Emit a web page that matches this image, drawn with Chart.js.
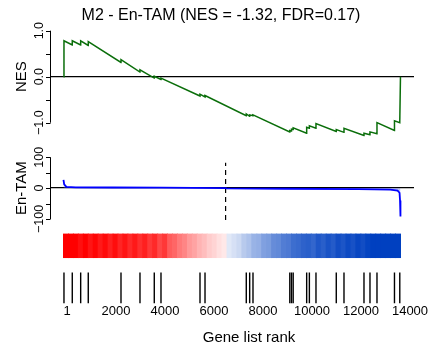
<!DOCTYPE html>
<html>
<head>
<meta charset="utf-8">
<title>M2 - En-TAM</title>
<script src="https://cdn.jsdelivr.net/npm/chart.js"></script>
<style>
  body { margin: 0; background: #fff; }
  canvas { display: block; }
</style>
</head>
<body>
<canvas id="gsea" width="428" height="348"></canvas>
<script>
const geneCount = 13720;

// running enrichment score (rank, score)
const esRanks = [1, 21, 358, 359, 700, 701, 1009, 1010, 2341, 2342, 3114, 3115, 3696, 3697, 3969, 3970,
  5557, 5558, 5761, 5762, 7441, 7442, 7579, 7580, 7714, 7715, 9212, 9213, 9281, 9282, 9350, 9351,
  9899, 9900, 10009, 10010, 10278, 10279, 11104, 11105, 11418, 11419, 12232, 12233, 12476, 12477,
  12761, 12762, 13473, 13474, 13689, 13718];
const esScores = [0, 0.78, 0.69, 0.78, 0.69, 0.78, 0.68, 0.76, 0.31, 0.37, 0.10, 0.15, -0.03, 0.01, -0.06, -0.03,
  -0.42, -0.38, -0.44, -0.41, -0.85, -0.81, -0.86, -0.83, -0.85, -0.83, -1.20, -1.17, -1.18, -1.14, -1.15, -1.11,
  -1.23, -1.10, -1.12, -1.07, -1.12, -1.02, -1.19, -1.15, -1.21, -1.12, -1.28, -1.23, -1.26, -1.20,
  -1.24, -1.00, -1.17, -0.96, -1.00, 0];

// ranks of the genes in the set (black bars)
const hitRanks = [21, 359, 701, 1010, 2342, 3115, 3697, 3970, 5558, 5762, 7442, 7580, 7715,
  9213, 9282, 9351, 9900, 10010, 10279, 11105, 11419, 12233, 12477, 12762, 13474, 13690];

// ranked list metric (En-TAM)
const metricRanks = [1, 30, 120, 500, 2000, 4000, 6600, 6650, 9000, 12000, 13300, 13600, 13680, 13700, 13718];
const metricValues = [27, 12, 4, 2.5, 2, 1.5, 0, -1, -2, -3, -5, -8, -15, -40, -92];

// where the metric crosses zero (dashed line)
const crossRank = 6600;
const crossSpan = [-103, 82];

// colour bar, +1 red ... 0 white ... -1 blue
const heatLevels = [1.00, 1.00, 1.00, 0.94, 1.00, 0.92, 0.98, 0.90, 0.96, 0.88,
  0.95, 0.86, 0.92, 0.84, 0.90, 0.82, 0.88, 0.78, 0.84, 0.72,
  0.78, 0.64, 0.60, 0.52, 0.48, 0.40, 0.36, 0.30, 0.26, 0.20,
  0.17, 0.12, 0.09,
  -0.12, -0.16, -0.20, -0.28, -0.32, -0.40, -0.42, -0.50, -0.52, -0.60,
  -0.62, -0.68, -0.70, -0.76, -0.78, -0.82, -0.84, -0.80, -0.88, -0.84,
  -0.90, -0.86, -0.93, -0.89, -0.95, -0.91, -0.97, -0.93, -0.98, -1,
  -1, -1, -1, -1, -1];

const rankTicks = [1, 2000, 4000, 6000, 8000, 10000, 12000, 14000];
const nesTicks = [-1, -0.5, 0, 0.5, 1];
const nesLabels = {'-1': '\u22121.0', '0': '0.0', '1': '1.0'};
const tamTicks = [-100, -50, 0, 50, 100];
const tamLabels = {'-100': '\u2212100', '0': '0', '100': '100'};

const FONT = '"Liberation Sans", Arial, Helvetica, sans-serif';
Chart.defaults.font.family = FONT;
Chart.defaults.color = '#000';

function heatColor(h) {
  if (h >= 0) {
    const c = Math.round(255 * (1 - h));
    return `rgb(255,${c},${c})`;
  }
  const t = -h;
  return `rgb(${Math.round(255 * (1 - t))},${Math.round(255 - 191 * t)},${Math.round(255 - 63 * t)})`;
}

// R style left axes: line over the tick range, short ticks, labels parallel to the axis
const rAxes = {
  id: 'rAxes',
  afterDraw(chart) {
    const {ctx, chartArea} = chart;
    const x0 = chartArea.left + 0.5;
    ctx.save();
    ctx.strokeStyle = '#000';
    ctx.fillStyle = '#000';
    ctx.lineWidth = 1;
    [['yN', nesTicks, nesLabels, 'NES'], ['yT', tamTicks, tamLabels, 'En-TAM']].forEach(([id, ticks, labels, title]) => {
      const s = chart.scales[id];
      ctx.beginPath();
      ctx.moveTo(x0, s.getPixelForValue(ticks[ticks.length - 1]));
      ctx.lineTo(x0, s.getPixelForValue(ticks[0]));
      ticks.forEach(v => {
        const y = Math.round(s.getPixelForValue(v)) + 0.5;
        ctx.moveTo(x0, y);
        ctx.lineTo(x0 - 4.5, y);
      });
      ctx.stroke();
      ctx.textAlign = 'center';
      ctx.textBaseline = 'middle';
      ctx.font = '12.5px ' + FONT;
      ticks.forEach(v => {
        if (labels[v] === undefined) return;
        ctx.save();
        ctx.translate(40, s.getPixelForValue(v));
        ctx.rotate(-Math.PI / 2);
        ctx.fillText(labels[v], 0, 0);
        ctx.restore();
      });
      ctx.font = '15px ' + FONT;
      ctx.save();
      ctx.translate(21.7, s.getPixelForValue(0));
      ctx.rotate(-Math.PI / 2);
      ctx.fillText(title, 0, 0);
      ctx.restore();
    });
    ctx.font = '15px ' + FONT;
    ctx.textAlign = 'center';
    ctx.textBaseline = 'alphabetic';
    ctx.fillText('Gene list rank', 249, 342);
    ctx.restore();
  }
};

const pad = 0.04 * (geneCount - 1);
const zeroGrid = c => (c.tick && c.tick.value === 0 ? '#000' : 'rgba(0,0,0,0)');
const fixWidth = s => { s.width = 22; };
const hitHalfLength = c => {
  const s = c.chart.scales.yB;
  return (s.getPixelForValue(0) - s.getPixelForValue(1)) / 2;
};

new Chart(document.getElementById('gsea'), {
  type: 'line',
  data: {
    datasets: [
      {
        label: 'Running ES',
        xAxisID: 'x', yAxisID: 'yN',
        data: esRanks.map((r, i) => ({x: r, y: esScores[i]})),
        borderColor: '#0a6e0a', borderWidth: 1.5,
        pointRadius: 0, tension: 0, fill: false
      },
      {
        label: 'En-TAM',
        xAxisID: 'x', yAxisID: 'yT',
        data: metricRanks.map((r, i) => ({x: r, y: metricValues[i]})),
        borderColor: '#0000ff', backgroundColor: 'rgba(80,100,255,0.35)', borderWidth: 1.8,
        pointRadius: 0, tension: 0, fill: 'origin'
      },
      {
        label: 'zero cross',
        xAxisID: 'x', yAxisID: 'yT',
        data: [{x: crossRank, y: crossSpan[0]}, {x: crossRank, y: crossSpan[1]}],
        borderColor: '#000', borderWidth: 1.2, borderDash: [5, 4],
        pointRadius: 0, fill: false
      },
      {
        type: 'bar',
        label: 'rank colours',
        xAxisID: 'x', yAxisID: 'yH',
        data: heatLevels.map((h, i) => ({x: 1 + (i + 0.5) * (geneCount - 1) / heatLevels.length, y: [0, 1]})),
        backgroundColor: heatLevels.map(heatColor),
        barThickness: 'flex', barPercentage: 1, categoryPercentage: 1,
        borderWidth: 0, inflateAmount: 0.5
      },
      {
        type: 'scatter',
        label: 'hits',
        xAxisID: 'x', yAxisID: 'yB',
        data: hitRanks.map(r => ({x: r, y: 0.5})),
        showLine: false,
        pointStyle: 'line', rotation: 90,
        pointRadius: hitHalfLength,
        borderColor: '#000', backgroundColor: '#000', pointBorderWidth: 1.4
      }
    ]
  },
  options: {
    responsive: false,
    animation: false,
    events: [],
    layout: {padding: {left: 28, right: 14, top: 0, bottom: 0}},
    plugins: {
      legend: {display: false},
      tooltip: {enabled: false},
      title: {
        display: true,
        text: 'M2 - En-TAM (NES = -1.32, FDR=0.17)',
        font: {size: 16, weight: 'normal'},
        color: '#000',
        padding: {top: 6, bottom: 1.8}
      }
    },
    scales: {
      x: {type: 'linear', display: false, offset: false, min: 1 - pad, max: geneCount + pad},
      xl: {
        type: 'linear', position: 'bottom', offset: false, min: -694, max: 14163,
        afterBuildTicks: s => { s.ticks = rankTicks.map(v => ({value: v})); },
        afterFit: s => { s.height = 44.5; s.paddingLeft = 0; s.paddingRight = 0; },
        grid: {display: false, drawTicks: false},
        border: {display: false},
        ticks: {autoSkip: false, maxRotation: 0, padding: 0, font: {size: 13}, callback: v => String(v)}
      },
      yN: {
        type: 'linear', position: 'left', stack: 'gsea', stackWeight: 114, weight: 4,
        min: -1.398, max: 1.080,
        afterBuildTicks: s => { s.ticks = nesTicks.map(v => ({value: v})); },
        afterFit: fixWidth,
        ticks: {display: false}, border: {display: false},
        grid: {drawTicks: false, lineWidth: 1.3, color: zeroGrid}
      },
      yT: {
        type: 'linear', position: 'left', stack: 'gsea', stackWeight: 87, weight: 3,
        min: -129.2, max: 152.8,
        afterBuildTicks: s => { s.ticks = tamTicks.map(v => ({value: v})); },
        afterFit: fixWidth,
        ticks: {display: false}, border: {display: false},
        grid: {drawTicks: false, lineWidth: 1.3, color: zeroGrid}
      },
      yH: {
        type: 'linear', position: 'left', stack: 'gsea', stackWeight: 34, weight: 2,
        min: -0.19, max: 1.26,
        afterFit: fixWidth,
        ticks: {display: false}, border: {display: false}, grid: {display: false}
      },
      yB: {
        type: 'linear', position: 'left', stack: 'gsea', stackWeight: 41.5, weight: 1,
        min: 0, max: 1.34,
        afterFit: fixWidth,
        ticks: {display: false}, border: {display: false}, grid: {display: false}
      }
    }
  },
  plugins: [rAxes]
});
</script>
</body>
</html>
